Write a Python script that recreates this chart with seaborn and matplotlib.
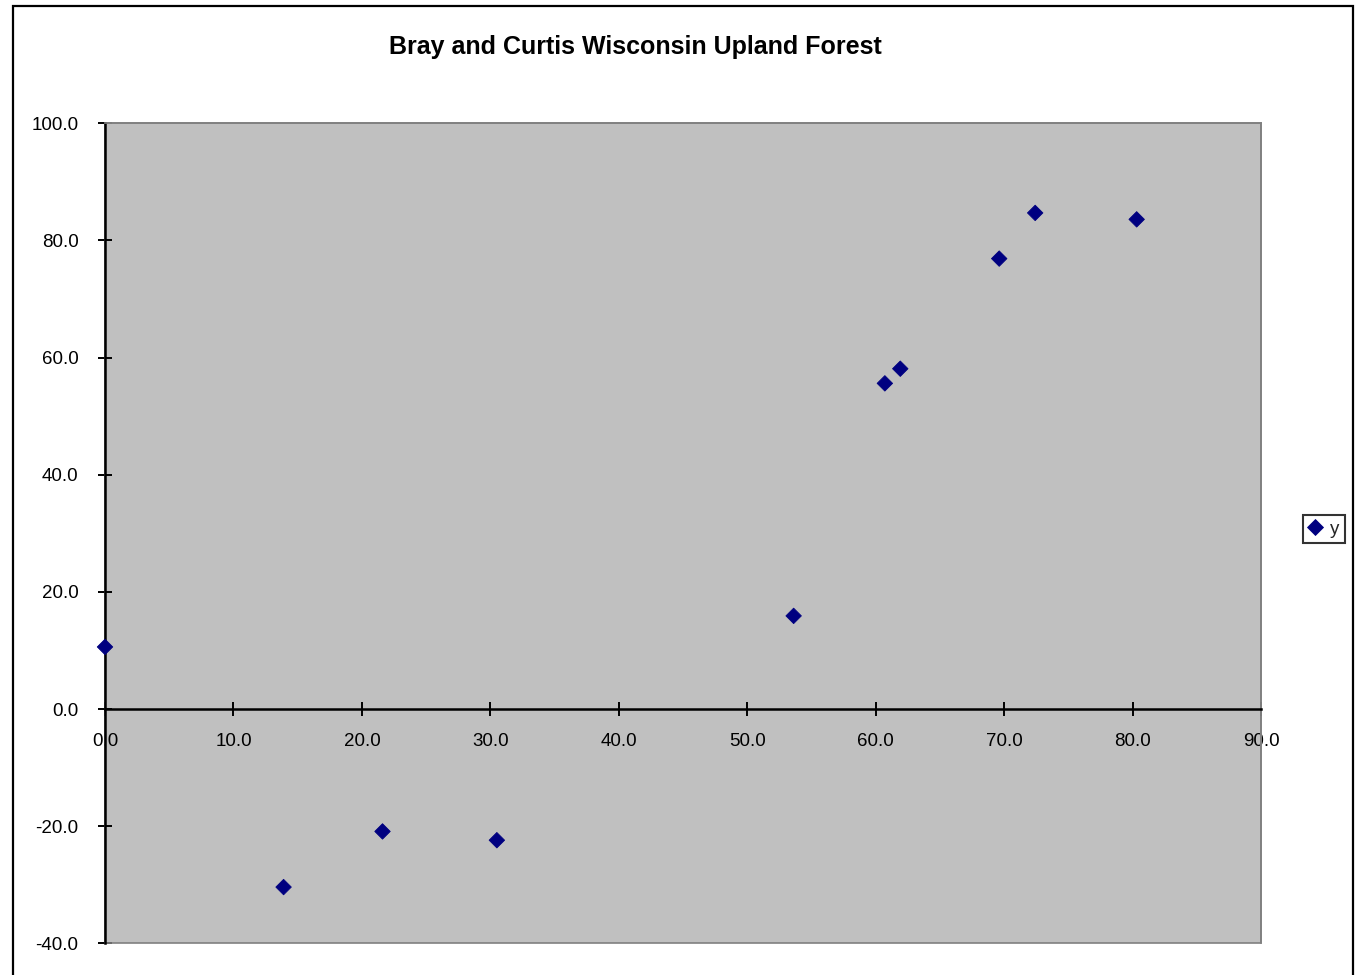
import matplotlib
matplotlib.use("Agg")
import matplotlib.pyplot as plt
from matplotlib.patches import Rectangle
import seaborn as sns
import pandas as pd

# ---- data ----
x_vals = [0.0, 13.9, 21.6, 30.5, 53.6, 60.7, 61.9, 69.6, 72.4, 80.3]
y_vals = [10.6, -30.4, -20.9, -22.4, 15.9, 55.6, 58.1, 76.9, 84.7, 83.6]
series_name = "y"
title_text = "Bray and Curtis Wisconsin Upland Forest"
x_ticks = [0, 10, 20, 30, 40, 50, 60, 70, 80, 90]
y_ticks = [-40, -20, 0, 20, 40, 60, 80, 100]

df = pd.DataFrame({"x": x_vals, "y": y_vals, "series": series_name})

sns.set_theme(style="white")
plt.rcParams["font.family"] = ["Liberation Sans", "DejaVu Sans"]

W, H = 1355, 975
fig = plt.figure(figsize=(W / 100, H / 100), dpi=100)
fig.patch.set_facecolor("white")

# outer chart border
fig.patches.append(Rectangle((12.5 / W, -0.02), (1353 - 12.5) / W, 1.02 - 5.7 / H,
                             transform=fig.transFigure, fill=False,
                             edgecolor="black", linewidth=1.6, zorder=0))

ax = fig.add_axes([105 / W, (H - 943.3) / H, (1261.3 - 105) / W, (943.3 - 123.3) / H])
ax.set_facecolor("#C0C0C0")

sns.scatterplot(data=df, x="x", y="y", hue="series", palette=["#000080"],
                marker="D", s=62, edgecolor="#000080", linewidth=0.6,
                ax=ax, zorder=5, clip_on=False)

ax.set_xlim(0, 90)
ax.set_ylim(-40, 100)
ax.set_xticks(x_ticks)
ax.set_yticks(y_ticks)
ax.set_xticklabels([f"{v:.1f}" for v in x_ticks])
ax.set_yticklabels([f"{v:.1f}" for v in y_ticks])
ax.set_xlabel("")
ax.set_ylabel("")

# plot area frame (gray)
ax.add_patch(Rectangle((0, 0), 1, 1, transform=ax.transAxes, fill=False,
                       edgecolor="#808080", linewidth=1.2, zorder=1, clip_on=False))
for s in ["top", "right"]:
    ax.spines[s].set_color("#808080")
    ax.spines[s].set_linewidth(1.2)
ax.spines["left"].set_color("black")
ax.spines["left"].set_linewidth(1.8)
ax.spines["bottom"].set_position(("data", 0))
ax.spines["bottom"].set_color("black")
ax.spines["bottom"].set_linewidth(1.8)

ax.tick_params(axis="both", which="major", direction="inout", length=9.5,
               width=1.4, color="black", labelsize=13.5, labelcolor="black")
ax.tick_params(axis="x", pad=12.5)
ax.tick_params(axis="y", pad=14, length=10)
ax.xaxis.set_ticks_position("bottom")
ax.yaxis.set_ticks_position("left")
ax.grid(False)

# legend
handles, labels = ax.get_legend_handles_labels()
if ax.get_legend() is not None:
    ax.get_legend().remove()
leg = fig.legend(handles, labels, loc="center", bbox_to_anchor=(1324.2 / W, 1 - 529 / H),
                 frameon=True, fancybox=False, edgecolor="black", fontsize=13.5,
                 handlelength=0.7, handletextpad=0.45, borderpad=0.3,
                 borderaxespad=0, markerscale=1.05)
leg.get_frame().set_linewidth(1.5)
leg.get_frame().set_facecolor("white")

fig.text(635 / W, 1 - 47 / H, title_text, ha="center", va="center",
         fontsize=18, fontweight="bold", color="black")

fig.savefig("out.png", dpi=100)
